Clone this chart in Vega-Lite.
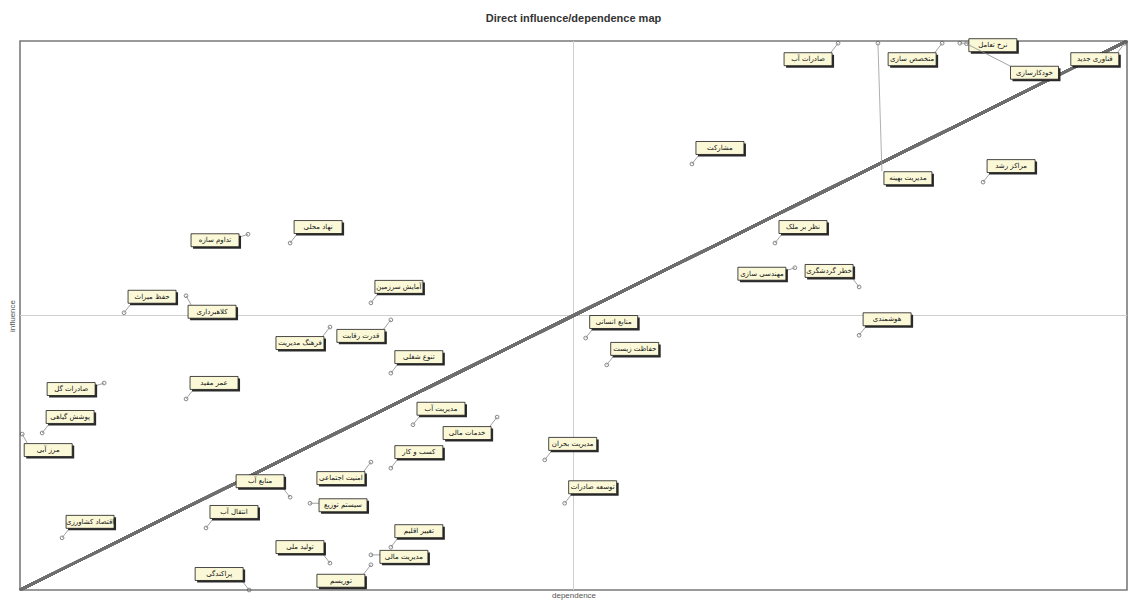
{
  "$schema": "https://vega.github.io/schema/vega-lite/v6.json",
  "autosize": {"type": "none"},
  "padding": {"left": 20, "top": 41, "right": 4, "bottom": 12},
  "width": 1107,
  "height": 549,
  "background": "white",
  "title": {
    "text": "Direct influence/dependence map",
    "anchor": "middle",
    "offset": 2,
    "baseline": "bottom",
    "font": "Liberation Sans",
    "fontSize": 11,
    "fontWeight": "bold",
    "color": "#333333"
  },
  "config": {
    "view": {"stroke": "#7a7a7a", "strokeWidth": 1.6},
    "axis": {"labels": false, "ticks": false, "domain": false, "grid": false, "titleFont": "Liberation Sans", "titleFontSize": 8, "titleFontWeight": "normal", "titleColor": "#555555"},
    "text": {"font": "DejaVu Sans", "fontSize": 7, "color": "#111111", "align": "center", "baseline": "middle"}
  },
  "data": {
    "values": [
      {"label": "صادرات آب", "dependence": 73.9, "influence": 99.6},
      {"label": "مدیریت بهینه", "dependence": 77.5, "influence": 99.6},
      {"label": "متخصص سازی", "dependence": 83.3, "influence": 99.6},
      {"label": "نرخ تعامل", "dependence": 84.9, "influence": 99.6},
      {"label": "خودکارسازی", "dependence": 85.5, "influence": 99.5},
      {"label": "فناوری جدید", "dependence": 99.8, "influence": 99.6},
      {"label": "مشارکت", "dependence": 60.7, "influence": 77.6},
      {"label": "مراکز رشد", "dependence": 87.0, "influence": 74.3},
      {"label": "نظر بر ملک", "dependence": 68.2, "influence": 63.2},
      {"label": "مهندسی سازی", "dependence": 70.0, "influence": 58.7},
      {"label": "خطر گردشگری", "dependence": 75.8, "influence": 55.2},
      {"label": "هوشمندی", "dependence": 75.8, "influence": 46.4},
      {"label": "منابع انسانی", "dependence": 51.1, "influence": 45.9},
      {"label": "حفاظت زیست", "dependence": 53.0, "influence": 41.0},
      {"label": "نهاد محلی", "dependence": 24.4, "influence": 63.2},
      {"label": "تداوم سازه", "dependence": 20.6, "influence": 64.8},
      {"label": "کلاهبرداری", "dependence": 15.0, "influence": 53.6},
      {"label": "حفظ میراث", "dependence": 9.4, "influence": 50.5},
      {"label": "آمایش سرزمین", "dependence": 31.7, "influence": 52.3},
      {"label": "قدرت رقابت", "dependence": 33.5, "influence": 49.2},
      {"label": "فرهنگ مدیریت", "dependence": 28.0, "influence": 47.9},
      {"label": "تنوع شغلی", "dependence": 33.5, "influence": 39.5},
      {"label": "صادرات گل", "dependence": 7.6, "influence": 37.7},
      {"label": "عمر مفید", "dependence": 15.0, "influence": 34.8},
      {"label": "پوشش گیاهی", "dependence": 2.0, "influence": 28.6},
      {"label": "مرز آبی", "dependence": 0.2, "influence": 28.4},
      {"label": "مدیریت آب", "dependence": 35.5, "influence": 30.1},
      {"label": "خدمات مالی", "dependence": 43.1, "influence": 31.5},
      {"label": "امنیت اجتماعی", "dependence": 31.7, "influence": 23.3},
      {"label": "کسب و کار", "dependence": 33.5, "influence": 22.2},
      {"label": "مدیریت بحران", "dependence": 47.4, "influence": 23.7},
      {"label": "منابع آب", "dependence": 24.4, "influence": 16.9},
      {"label": "سیستم توزیع", "dependence": 26.2, "influence": 15.8},
      {"label": "انتقال آب", "dependence": 16.8, "influence": 11.3},
      {"label": "اقتصاد کشاورزی", "dependence": 3.8, "influence": 9.5},
      {"label": "تغییر اقلیم", "dependence": 33.5, "influence": 7.8},
      {"label": "تولید ملی", "dependence": 28.0, "influence": 4.9},
      {"label": "مدیریت مالی", "dependence": 31.7, "influence": 6.4},
      {"label": "توریسم", "dependence": 31.7, "influence": 4.6},
      {"label": "پراکندگی", "dependence": 20.7, "influence": 0.0},
      {"label": "توسعه صادرات", "dependence": 49.2, "influence": 15.8}
    ]
  },
  "encoding": {
    "x": {"field": "dependence", "type": "quantitative", "scale": {"domain": [0, 100], "nice": false, "zero": false}, "axis": {"title": "dependence", "titlePadding": 1}},
    "y": {"field": "influence", "type": "quantitative", "scale": {"domain": [0, 100], "nice": false, "zero": false}, "axis": {"title": "influence", "titlePadding": 4}}
  },
  "layer": [
    {
      "mark": {"type": "rule", "color": "#cfcfcf", "strokeWidth": 1},
      "encoding": {"x": {"datum": 50, "type": "quantitative"}, "y": null}
    },
    {
      "mark": {"type": "rule", "color": "#cfcfcf", "strokeWidth": 1},
      "encoding": {"y": {"datum": 50, "type": "quantitative"}, "x": null}
    },
    {
      "mark": {"type": "rule", "color": "#6e6e6e", "strokeWidth": 2.5},
      "encoding": {
        "x": {"datum": 0, "type": "quantitative"},
        "y": {"datum": 0, "type": "quantitative"},
        "x2": {"datum": 100},
        "y2": {"datum": 100}
      }
    },
    {
      "mark": {"type": "point", "shape": "circle", "size": 14, "filled": false, "color": "#555555", "strokeWidth": 1}
    },
    {
      "transform": [{"filter": {"field": "label", "oneOf": ["مشارکت", "مراکز رشد", "نظر بر ملک", "هوشمندی", "منابع انسانی", "حفاظت زیست", "نهاد محلی", "حفظ میراث", "آمایش سرزمین", "تنوع شغلی", "عمر مفید", "پوشش گیاهی", "مدیریت آب", "کسب و کار", "مدیریت بحران", "توسعه صادرات", "انتقال آب", "اقتصاد کشاورزی", "تغییر اقلیم"]}}],
      "layer": [
        {"mark": {"type": "rule", "color": "#8a8a8a", "strokeWidth": 0.8, "x2Offset": 7, "y2Offset": -9}, "encoding": {"x2": {"field": "dependence"}, "y2": {"field": "influence"}}},
        {"mark": {"type": "point", "shape": "M-1,-0.27H1V0.27H-1Z", "size": 2304, "filled": true, "color": "#2a2a2a", "opacity": 1, "xOffset": 30, "yOffset": -14}},
        {"mark": {"type": "point", "shape": "M-1,-0.27H1V0.27H-1Z", "size": 2304, "filled": true, "fill": "#fbf8d8", "stroke": "#1a1a1a", "strokeWidth": 0.8, "opacity": 1, "xOffset": 28, "yOffset": -16}},
        {"mark": {"type": "text", "dx": 28, "dy": -16}, "encoding": {"text": {"field": "label"}}}
      ]
    },
    {
      "transform": [{"filter": {"field": "label", "oneOf": ["صادرات آب", "متخصص سازی", "فناوری جدید", "قدرت رقابت", "فرهنگ مدیریت", "امنیت اجتماعی", "خدمات مالی", "توریسم"]}}],
      "layer": [
        {"mark": {"type": "rule", "color": "#8a8a8a", "strokeWidth": 0.8, "x2Offset": -7, "y2Offset": 9}, "encoding": {"x2": {"field": "dependence"}, "y2": {"field": "influence"}}},
        {"mark": {"type": "point", "shape": "M-1,-0.27H1V0.27H-1Z", "size": 2304, "filled": true, "color": "#2a2a2a", "opacity": 1, "xOffset": -28, "yOffset": 18}},
        {"mark": {"type": "point", "shape": "M-1,-0.27H1V0.27H-1Z", "size": 2304, "filled": true, "fill": "#fbf8d8", "stroke": "#1a1a1a", "strokeWidth": 0.8, "opacity": 1, "xOffset": -30, "yOffset": 16}},
        {"mark": {"type": "text", "dx": -30, "dy": 16}, "encoding": {"text": {"field": "label"}}}
      ]
    },
    {
      "transform": [{"filter": {"field": "label", "oneOf": ["تداوم سازه", "صادرات گل", "مهندسی سازی"]}}],
      "layer": [
        {"mark": {"type": "rule", "color": "#8a8a8a", "strokeWidth": 0.8, "x2Offset": -9, "y2Offset": 3}, "encoding": {"x2": {"field": "dependence"}, "y2": {"field": "influence"}}},
        {"mark": {"type": "point", "shape": "M-1,-0.27H1V0.27H-1Z", "size": 2304, "filled": true, "color": "#2a2a2a", "opacity": 1, "xOffset": -31, "yOffset": 8}},
        {"mark": {"type": "point", "shape": "M-1,-0.27H1V0.27H-1Z", "size": 2304, "filled": true, "fill": "#fbf8d8", "stroke": "#1a1a1a", "strokeWidth": 0.8, "opacity": 1, "xOffset": -33, "yOffset": 6}},
        {"mark": {"type": "text", "dx": -33, "dy": 6}, "encoding": {"text": {"field": "label"}}}
      ]
    },
    {
      "transform": [{"filter": {"field": "label", "oneOf": ["تولید ملی", "پراکندگی", "منابع آب", "خطر گردشگری"]}}],
      "layer": [
        {"mark": {"type": "rule", "color": "#8a8a8a", "strokeWidth": 0.8, "x2Offset": -7, "y2Offset": -9}, "encoding": {"x2": {"field": "dependence"}, "y2": {"field": "influence"}}},
        {"mark": {"type": "point", "shape": "M-1,-0.27H1V0.27H-1Z", "size": 2304, "filled": true, "color": "#2a2a2a", "opacity": 1, "xOffset": -28, "yOffset": -14}},
        {"mark": {"type": "point", "shape": "M-1,-0.27H1V0.27H-1Z", "size": 2304, "filled": true, "fill": "#fbf8d8", "stroke": "#1a1a1a", "strokeWidth": 0.8, "opacity": 1, "xOffset": -30, "yOffset": -16}},
        {"mark": {"type": "text", "dx": -30, "dy": -16}, "encoding": {"text": {"field": "label"}}}
      ]
    },
    {
      "transform": [{"filter": {"field": "label", "oneOf": ["کلاهبرداری", "مرز آبی"]}}],
      "layer": [
        {"mark": {"type": "rule", "color": "#8a8a8a", "strokeWidth": 0.8, "x2Offset": 5, "y2Offset": 9}, "encoding": {"x2": {"field": "dependence"}, "y2": {"field": "influence"}}},
        {"mark": {"type": "point", "shape": "M-1,-0.27H1V0.27H-1Z", "size": 2304, "filled": true, "color": "#2a2a2a", "opacity": 1, "xOffset": 28, "yOffset": 18}},
        {"mark": {"type": "point", "shape": "M-1,-0.27H1V0.27H-1Z", "size": 2304, "filled": true, "fill": "#fbf8d8", "stroke": "#1a1a1a", "strokeWidth": 0.8, "opacity": 1, "xOffset": 26, "yOffset": 16}},
        {"mark": {"type": "text", "dx": 26, "dy": 16}, "encoding": {"text": {"field": "label"}}}
      ]
    },
    {
      "transform": [{"filter": {"field": "label", "oneOf": ["سیستم توزیع", "مدیریت مالی", "نرخ تعامل"]}}],
      "layer": [
        {"mark": {"type": "rule", "color": "#8a8a8a", "strokeWidth": 0.8, "x2Offset": 9, "y2Offset": 0}, "encoding": {"x2": {"field": "dependence"}, "y2": {"field": "influence"}}},
        {"mark": {"type": "point", "shape": "M-1,-0.27H1V0.27H-1Z", "size": 2304, "filled": true, "color": "#2a2a2a", "opacity": 1, "xOffset": 35, "yOffset": 4}},
        {"mark": {"type": "point", "shape": "M-1,-0.27H1V0.27H-1Z", "size": 2304, "filled": true, "fill": "#fbf8d8", "stroke": "#1a1a1a", "strokeWidth": 0.8, "opacity": 1, "xOffset": 33, "yOffset": 2}},
        {"mark": {"type": "text", "dx": 33, "dy": 2}, "encoding": {"text": {"field": "label"}}}
      ]
    },
    {
      "transform": [{"filter": {"field": "label", "oneOf": ["خودکارسازی"]}}],
      "layer": [
        {"mark": {"type": "rule", "color": "#8a8a8a", "strokeWidth": 0.8, "x2Offset": 45, "y2Offset": 23}, "encoding": {"x2": {"field": "dependence"}, "y2": {"field": "influence"}}},
        {"mark": {"type": "point", "shape": "M-1,-0.27H1V0.27H-1Z", "size": 2304, "filled": true, "color": "#2a2a2a", "opacity": 1, "xOffset": 70, "yOffset": 31}},
        {"mark": {"type": "point", "shape": "M-1,-0.27H1V0.27H-1Z", "size": 2304, "filled": true, "fill": "#fbf8d8", "stroke": "#1a1a1a", "strokeWidth": 0.8, "opacity": 1, "xOffset": 68, "yOffset": 29}},
        {"mark": {"type": "text", "dx": 68, "dy": 29}, "encoding": {"text": {"field": "label"}}}
      ]
    },
    {
      "transform": [{"filter": {"field": "label", "oneOf": ["مدیریت بهینه"]}}],
      "layer": [
        {"mark": {"type": "rule", "color": "#9a9a9a", "strokeWidth": 0.8, "x2Offset": 4, "y2Offset": 128}, "encoding": {"x2": {"field": "dependence"}, "y2": {"field": "influence"}}},
        {"mark": {"type": "point", "shape": "M-1,-0.27H1V0.27H-1Z", "size": 2304, "filled": true, "color": "#2a2a2a", "opacity": 1, "xOffset": 32, "yOffset": 137}},
        {"mark": {"type": "point", "shape": "M-1,-0.27H1V0.27H-1Z", "size": 2304, "filled": true, "fill": "#fbf8d8", "stroke": "#1a1a1a", "strokeWidth": 0.8, "opacity": 1, "xOffset": 30, "yOffset": 135}},
        {"mark": {"type": "text", "dx": 30, "dy": 135}, "encoding": {"text": {"field": "label"}}}
      ]
    }
  ]
}
